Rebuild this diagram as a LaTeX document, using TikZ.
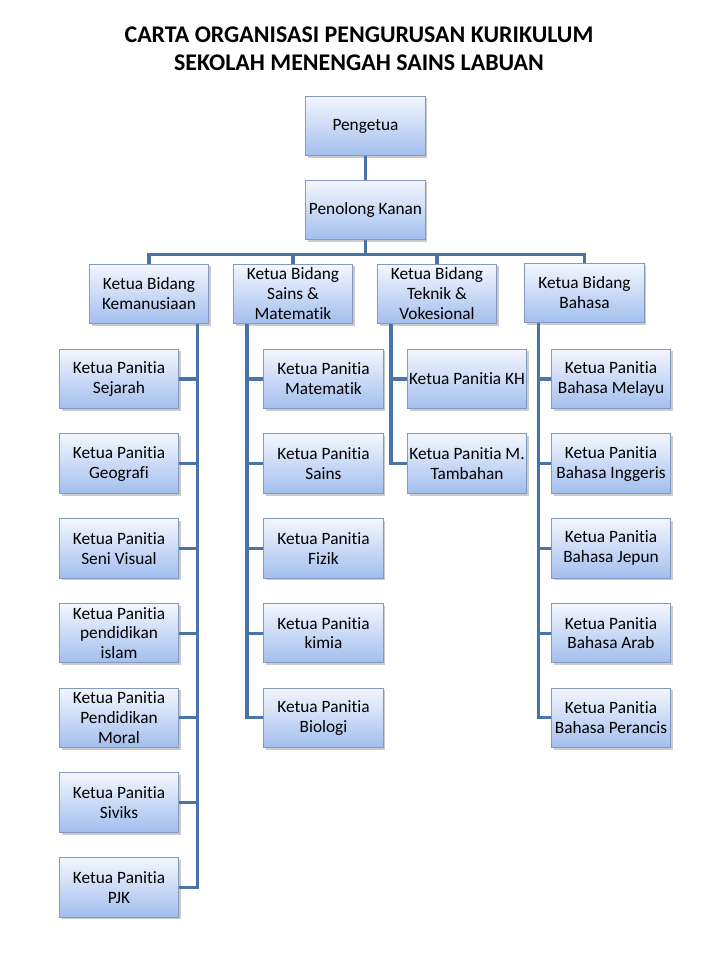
\documentclass[tikz,border=0pt]{standalone}
\usepackage{fontspec}
\setmainfont[Ligatures=NoCommon]{Carlito}
\usepackage{xcolor}
\usetikzlibrary{shadows,calc}

\definecolor{boxtop}{HTML}{F3F7FE}
\definecolor{boxbot}{HTML}{A2BEEE}
\definecolor{boxline}{HTML}{8499BD}
\definecolor{linkblue}{HTML}{4A74A8}

\begin{document}
\begin{tikzpicture}[
    x = 0.025cm, y = -0.025cm,
    every node/.style = {font=\fontsize{12.3}{14.2}\selectfont},
    % Named styles
    post/.style     = {rectangle, draw=boxline, line width=0.6pt,
                       top color=boxtop, bottom color=boxbot,
                       minimum width=2.98cm, minimum height=1.49cm,
                       align=center, inner sep=1pt,
                       drop shadow={shadow xshift=1.6pt, shadow yshift=-1.6pt,
                                    fill=black!45, opacity=0.45}},
    link/.style     = {draw=linkblue, line width=2.2pt},
    heading/.style  = {font=\fontsize{17}{20}\selectfont\bfseries, align=center},
]

% ── Page ──────────────────────────────────────────────────────────────────────
\useasboundingbox[fill=white] (0,0) rectangle (720,960);

% ── Title ─────────────────────────────────────────────────────────────────────
\node[heading] (title) at (359,49) {CARTA ORGANISASI PENGURUSAN KURIKULUM\\
                                    SEKOLAH MENENGAH SAINS LABUAN};

% ── Top posts ─────────────────────────────────────────────────────────────────
\node[post] (peng)   at (365.5,126) {Pengetua};
\node[post] (pkanan) at (365.5,210) {Penolong Kanan};

% ── Ketua Bidang ──────────────────────────────────────────────────────────────
\node[post] (kb1) at (149,294)   {Ketua Bidang\\Kemanusiaan};
\node[post] (kb2) at (293,294)   {Ketua Bidang\\Sains \&\\Matematik};
\node[post] (kb3) at (437,294)   {Ketua Bidang\\Teknik \&\\Vokesional};
\node[post] (kb4) at (584.5,293) {Ketua Bidang\\Bahasa};

% ── Ketua Panitia (row centres every ~84.7 px) ────────────────────────────────
\def\rowA{379}  % first row
\def\rowD{84.7} % row step

% Kemanusiaan
\foreach \i/\txt in {1/Sejarah, 2/Geografi, 3/Seni Visual,
                     4/pendidikan\\islam, 5/Pendidikan\\Moral, 6/Siviks, 7/PJK}
    \node[post] (hum\i) at (119,\rowA+\rowD*\i-\rowD) {Ketua Panitia\\\txt};

% Sains & Matematik
\foreach \i/\txt in {1/Matematik, 2/Sains, 3/Fizik, 4/kimia, 5/Biologi}
    \node[post] (sci\i) at (323.5,\rowA+\rowD*\i-\rowD) {Ketua Panitia\\\txt};

% Teknik & Vokesional
\node[post] (tek1) at (467,\rowA)       {Ketua Panitia KH};
\node[post] (tek2) at (467,\rowA+\rowD) {Ketua Panitia M.\\Tambahan};

% Bahasa
\foreach \i/\txt in {1/Melayu, 2/Inggeris, 3/Jepun, 4/Arab, 5/Perancis}
    \node[post] (bhs\i) at (611,\rowA+\rowD*\i-\rowD) {Ketua Panitia\\Bahasa \txt};

% ── Connectors ────────────────────────────────────────────────────────────────
\draw[link] (peng) -- (pkanan);
\foreach \b in {kb1,kb2,kb3,kb4}
    \draw[link] (pkanan.south) -- ++(0,14) -| (\b.north);

% trunks under each Ketua Bidang
\coordinate (trunk1) at (197.5,0);
\coordinate (trunk2) at (247,0);
\coordinate (trunk3) at (391,0);
\coordinate (trunk4) at (538.5,0);

\draw[link] (kb1.south -| trunk1) |- (hum7.east);
\foreach \i in {1,...,6}
    \draw[link] (hum\i.east) -- (hum\i.east -| trunk1);

\draw[link] (kb2.south -| trunk2) |- (sci5.west);
\foreach \i in {1,...,4}
    \draw[link] (sci\i.west) -- (sci\i.west -| trunk2);

\draw[link] (kb3.south -| trunk3) |- (tek2.west);
\draw[link] (tek1.west) -- (tek1.west -| trunk3);

\draw[link] (kb4.south -| trunk4) |- (bhs5.west);
\foreach \i in {1,...,4}
    \draw[link] (bhs\i.west) -- (bhs\i.west -| trunk4);

\end{tikzpicture}
\end{document}
